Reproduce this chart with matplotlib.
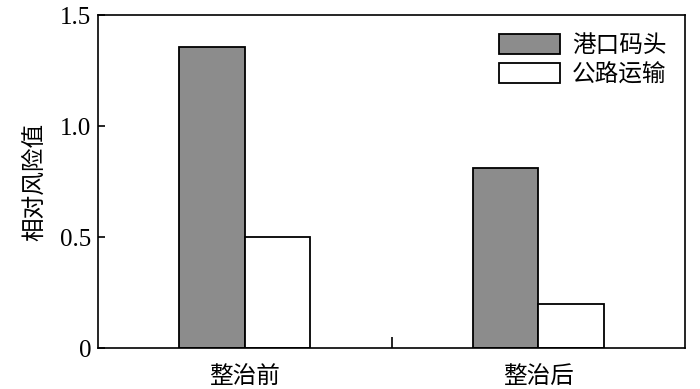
import matplotlib.pyplot as plt
import numpy as np

# 数据
categories = ['整治前', '整治后']
port_values = [1.355, 0.81]
road_values = [0.50, 0.20]
series_names = ['港口码头', '公路运输']

CJK = ['Noto Sans CJK SC', 'DejaVu Sans']
SERIF = 'Liberation Serif'

fig = plt.figure(figsize=(7, 3.89), dpi=100)
ax = fig.add_axes([0.14, 0.105, 0.839, 0.856])

x = np.arange(len(categories))
w = 0.223
ax.bar(x - w / 2, port_values, w, color='#8c8c8c', edgecolor='black', linewidth=1.3, label=series_names[0])
ax.bar(x + w / 2, road_values, w, color='white', edgecolor='black', linewidth=1.3, label=series_names[1])

ax.set_xlim(-0.5, 1.5)
ax.set_ylim(0, 1.5)
ax.set_yticks([0, 0.5, 1.0, 1.5])
ax.set_yticklabels(['0', '0.5', '1.0', '1.5'], fontfamily=SERIF, fontsize=18)
ax.tick_params(axis='y', direction='in', length=5, width=1.2, pad=5)

# 类别标签无刻度，中间一个刻度
ax.set_xticks(x)
ax.set_xticklabels(categories, family=CJK, fontsize=17, fontweight='medium')
ax.tick_params(axis='x', length=0, pad=12)
ax.set_xticks([0.5], minor=True)
ax.tick_params(axis='x', which='minor', direction='in', length=8, width=1.2)

ax.set_ylabel('相对风险值', family=CJK, fontsize=17, fontweight='medium', labelpad=10)

for s in ax.spines.values():
    s.set_linewidth(1.2)

leg = ax.legend(loc='upper right', frameon=False,
                prop={'family': CJK, 'size': 17, 'weight': 'medium'},
                handlelength=2.6, handleheight=0.9, handletextpad=0.5,
                labelspacing=0.25, borderaxespad=0.4)

plt.savefig('out.png', dpi=100)
